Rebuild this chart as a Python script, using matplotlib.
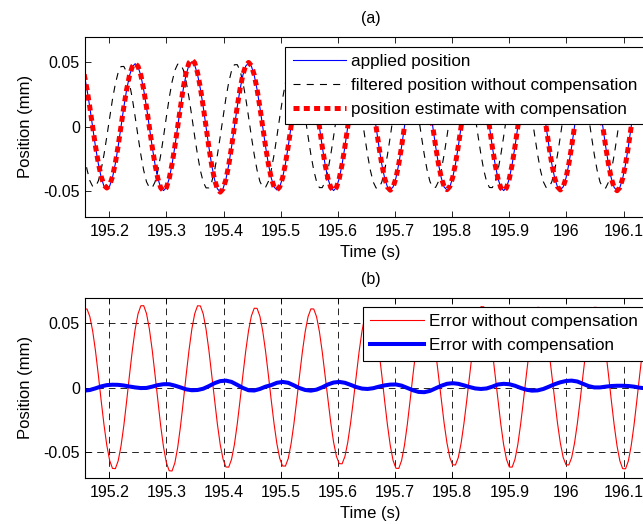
import numpy as np
import matplotlib.pyplot as plt

plt.rcParams['font.family'] = ['Liberation Sans', 'DejaVu Sans']

# sampling of the logged signals (s)
t_start = 195.1561
dt = 0.00496

# positions in mm, one row per cycle
applied = [
    0.0405, 0.0291, 0.0150, -0.0004, -0.0156, -0.0287, -0.0392, -0.0462, -0.0482, -0.0460,
    -0.0393, -0.0286, -0.0151, 0.0002, 0.0154, 0.0290, 0.0398, 0.0468, 0.0490, 0.0466,
    0.0398, 0.0288, 0.0152, 0.0000, -0.0154, -0.0292, -0.0401, -0.0471, -0.0495, -0.0472,
    -0.0402, -0.0292, -0.0153, 0.0001, 0.0157, 0.0298, 0.0409, 0.0481, 0.0505, 0.0479,
    0.0406, 0.0295, 0.0156, 0.0001, -0.0157, -0.0298, -0.0409, -0.0481, -0.0505, -0.0480,
    -0.0408, -0.0296, -0.0155, 0.0000, 0.0154, 0.0292, 0.0401, 0.0472, 0.0495, 0.0471,
    0.0400, 0.0290, 0.0152, -0.0001, -0.0153, -0.0289, -0.0397, -0.0467, -0.0490, -0.0466,
    -0.0396, -0.0288, -0.0151, 0.0002, 0.0156, 0.0295, 0.0405, 0.0476, 0.0500, 0.0475,
    0.0403, 0.0293, 0.0154, 0.0000, -0.0154, -0.0292, -0.0401, -0.0471, -0.0495, -0.0470,
    -0.0400, -0.0291, -0.0153, 0.0001, 0.0155, 0.0294, 0.0404, 0.0475, 0.0499, 0.0474,
    0.0401, 0.0290, 0.0151, -0.0002, -0.0154, -0.0290, -0.0397, -0.0467, -0.0490, -0.0466,
    -0.0397, -0.0288, -0.0152, 0.0000, 0.0153, 0.0291, 0.0401, 0.0471, 0.0495, 0.0471,
    0.0400, 0.0291, 0.0153, 0.0000, -0.0152, -0.0289, -0.0397, -0.0467, -0.0490, -0.0467,
    -0.0397, -0.0289, -0.0152, 0.0001, 0.0155, 0.0295, 0.0404, 0.0476, 0.0500, 0.0476,
    0.0405, 0.0294, 0.0155, 0.0000, -0.0154, -0.0292, -0.0401, -0.0471, -0.0495, -0.0471,
    -0.0401, -0.0291, -0.0153, 0.0001, 0.0154, 0.0291, 0.0400, 0.0471, 0.0495, 0.0470,
    0.0400, 0.0290, 0.0152, -0.0001, -0.0153, -0.0289, -0.0397, -0.0467, -0.0490, -0.0466,
    -0.0397, -0.0289, -0.0152, 0.0001, 0.0155, 0.0294, 0.0404, 0.0476, 0.0500, 0.0475,
    0.0404, 0.0293, 0.0154, 0.0000, -0.0154, -0.0292, -0.0401, -0.0471, -0.0495, -0.0471,
    -0.0400, -0.0291, -0.0153, 0.0000, 0.0155, 0.0294, 0.0404, 0.0476, 0.0500, 0.0476,
]

filtered = [
    -0.0213, -0.0331, -0.0418, -0.0463, -0.0464, -0.0420, -0.0333, -0.0215, -0.0074, 0.0073,
    0.0215, 0.0334, 0.0422, 0.0468, 0.0469, 0.0424, 0.0337, 0.0218, 0.0076, -0.0074,
    -0.0217, -0.0338, -0.0427, -0.0472, -0.0473, -0.0428, -0.0340, -0.0220, -0.0077, 0.0077,
    0.0224, 0.0348, 0.0439, 0.0487, 0.0488, 0.0441, 0.0350, 0.0225, 0.0078, -0.0076,
    -0.0218, -0.0339, -0.0428, -0.0474, -0.0474, -0.0428, -0.0339, -0.0219, -0.0076, 0.0076,
    0.0222, 0.0345, 0.0436, 0.0482, 0.0483, 0.0437, 0.0346, 0.0223, 0.0077, -0.0076,
    -0.0216, -0.0336, -0.0424, -0.0469, -0.0469, -0.0424, -0.0336, -0.0217, -0.0075, 0.0075,
    0.0218, 0.0339, 0.0428, 0.0474, 0.0474, 0.0428, 0.0339, 0.0218, 0.0075, -0.0075,
    -0.0217, -0.0337, -0.0426, -0.0472, -0.0472, -0.0426, -0.0337, -0.0217, -0.0075, 0.0075,
    0.0218, 0.0340, 0.0429, 0.0475, 0.0475, 0.0429, 0.0340, 0.0219, 0.0075, -0.0075,
    -0.0219, -0.0340, -0.0429, -0.0475, -0.0475, -0.0429, -0.0340, -0.0219, -0.0075, 0.0076,
    0.0219, 0.0340, 0.0430, 0.0476, 0.0476, 0.0429, 0.0340, 0.0219, 0.0075, -0.0075,
    -0.0216, -0.0336, -0.0425, -0.0470, -0.0470, -0.0425, -0.0336, -0.0216, -0.0074, 0.0075,
    0.0219, 0.0340, 0.0430, 0.0476, 0.0476, 0.0430, 0.0341, 0.0219, 0.0075, -0.0075,
    -0.0216, -0.0337, -0.0426, -0.0471, -0.0472, -0.0427, -0.0338, -0.0218, -0.0075, 0.0075,
    0.0217, 0.0338, 0.0427, 0.0473, 0.0473, 0.0427, 0.0338, 0.0218, 0.0075, -0.0074,
    -0.0217, -0.0338, -0.0426, -0.0471, -0.0471, -0.0426, -0.0338, -0.0217, -0.0075, 0.0075,
    0.0218, 0.0339, 0.0428, 0.0474, 0.0474, 0.0428, 0.0339, 0.0218, 0.0075, -0.0075,
    -0.0218, -0.0339, -0.0428, -0.0474, -0.0475, -0.0429, -0.0340, -0.0219, -0.0076, 0.0075,
    0.0219, 0.0340, 0.0429, 0.0475, 0.0475, 0.0429, 0.0340, 0.0219, 0.0076, -0.0075,
]

estimate = [
    0.0408, 0.0293, 0.0150, -0.0003, -0.0152, -0.0282, -0.0386, -0.0454, -0.0475, -0.0453,
    -0.0386, -0.0281, -0.0147, 0.0004, 0.0156, 0.0292, 0.0400, 0.0469, 0.0492, 0.0470,
    0.0402, 0.0290, 0.0152, -0.0001, -0.0155, -0.0293, -0.0403, -0.0473, -0.0497, -0.0473,
    -0.0401, -0.0290, -0.0151, 0.0004, 0.0163, 0.0308, 0.0424, 0.0498, 0.0522, 0.0497,
    0.0420, 0.0303, 0.0158, 0.0000, -0.0158, -0.0299, -0.0411, -0.0483, -0.0507, -0.0482,
    -0.0410, -0.0298, -0.0156, 0.0001, 0.0156, 0.0295, 0.0405, 0.0476, 0.0500, 0.0475,
    0.0403, 0.0292, 0.0152, -0.0002, -0.0153, -0.0289, -0.0397, -0.0467, -0.0490, -0.0466,
    -0.0397, -0.0288, -0.0150, 0.0003, 0.0157, 0.0297, 0.0407, 0.0479, 0.0503, 0.0478,
    0.0405, 0.0294, 0.0154, 0.0000, -0.0154, -0.0292, -0.0401, -0.0471, -0.0495, -0.0471,
    -0.0401, -0.0291, -0.0153, 0.0001, 0.0154, 0.0293, 0.0403, 0.0474, 0.0498, 0.0473,
    0.0402, 0.0291, 0.0152, -0.0001, -0.0153, -0.0290, -0.0398, -0.0468, -0.0492, -0.0468,
    -0.0398, -0.0289, -0.0152, 0.0000, 0.0155, 0.0294, 0.0404, 0.0476, 0.0500, 0.0476,
    0.0404, 0.0293, 0.0151, -0.0001, -0.0151, -0.0287, -0.0395, -0.0464, -0.0488, -0.0464,
    -0.0395, -0.0287, -0.0150, 0.0002, 0.0156, 0.0296, 0.0406, 0.0478, 0.0502, 0.0477,
    0.0405, 0.0294, 0.0154, -0.0001, -0.0155, -0.0293, -0.0403, -0.0474, -0.0498, -0.0474,
    -0.0403, -0.0293, -0.0154, 0.0000, 0.0154, 0.0292, 0.0402, 0.0473, 0.0497, 0.0472,
    0.0401, 0.0291, 0.0152, -0.0001, -0.0152, -0.0289, -0.0397, -0.0466, -0.0490, -0.0466,
    -0.0397, -0.0288, -0.0151, 0.0002, 0.0155, 0.0294, 0.0405, 0.0476, 0.0501, 0.0477,
    0.0406, 0.0295, 0.0155, 0.0000, -0.0154, -0.0292, -0.0402, -0.0472, -0.0496, -0.0472,
    -0.0401, -0.0292, -0.0153, 0.0000, 0.0155, 0.0294, 0.0404, 0.0476, 0.0500, 0.0476,
]

err_without = [
    0.0610, 0.0612, 0.0553, 0.0441, 0.0285, 0.0099, -0.0101, -0.0289, -0.0450, -0.0567,
    -0.0628, -0.0630, -0.0569, -0.0454, -0.0293, -0.0102, 0.0100, 0.0292, 0.0455, 0.0574,
    0.0637, 0.0638, 0.0576, 0.0457, 0.0294, 0.0101, -0.0102, -0.0297, -0.0462, -0.0583,
    -0.0646, -0.0648, -0.0585, -0.0464, -0.0298, -0.0103, 0.0101, 0.0293, 0.0457, 0.0575,
    0.0637, 0.0636, 0.0574, 0.0455, 0.0291, 0.0099, -0.0098, -0.0283, -0.0442, -0.0556,
    -0.0617, -0.0618, -0.0557, -0.0443, -0.0284, -0.0098, 0.0098, 0.0285, 0.0444, 0.0558,
    0.0618, 0.0617, 0.0556, 0.0441, 0.0283, 0.0097, -0.0097, -0.0281, -0.0437, -0.0550,
    -0.0609, -0.0610, -0.0551, -0.0437, -0.0281, -0.0097, 0.0097, 0.0281, 0.0438, 0.0553,
    0.0613, 0.0612, 0.0551, 0.0436, 0.0278, 0.0094, -0.0094, -0.0272, -0.0424, -0.0534,
    -0.0591, -0.0592, -0.0535, -0.0425, -0.0274, -0.0095, 0.0096, 0.0280, 0.0437, 0.0552,
    0.0620, 0.0619, 0.0558, 0.0443, 0.0286, 0.0099, -0.0100, -0.0289, -0.0450, -0.0567,
    -0.0627, -0.0628, -0.0566, -0.0449, -0.0288, -0.0099, 0.0098, 0.0284, 0.0443, 0.0558,
    0.0620, 0.0618, 0.0555, 0.0438, 0.0281, 0.0096, -0.0096, -0.0276, -0.0430, -0.0542,
    -0.0600, -0.0601, -0.0543, -0.0431, -0.0277, -0.0096, 0.0099, 0.0287, 0.0448, 0.0565,
    0.0630, 0.0629, 0.0566, 0.0448, 0.0287, 0.0098, -0.0098, -0.0284, -0.0443, -0.0558,
    -0.0617, -0.0618, -0.0557, -0.0442, -0.0283, -0.0097, 0.0097, 0.0282, 0.0440, 0.0555,
    0.0625, 0.0623, 0.0560, 0.0443, 0.0283, 0.0096, -0.0096, -0.0276, -0.0430, -0.0542,
    -0.0600, -0.0601, -0.0544, -0.0432, -0.0279, -0.0097, 0.0098, 0.0285, 0.0445, 0.0561,
    0.0625, 0.0624, 0.0561, 0.0446, 0.0287, 0.0099, -0.0101, -0.0291, -0.0452, -0.0569,
    -0.0630, -0.0631, -0.0570, -0.0452, -0.0290, -0.0099, 0.0100, 0.0290, 0.0453, 0.0570,
]

# logged at half the rate
err_with = [
    -0.0023, -0.0018, -0.0005, 0.0010, 0.0020, 0.0023, 0.0022, 0.0017, 0.0009, 0.0002,
    -0.0003, -0.0002, 0.0008, 0.0020, 0.0027, 0.0027, 0.0016, 0.0002, -0.0013, -0.0020,
    -0.0018, -0.0008, 0.0012, 0.0035, 0.0051, 0.0055, 0.0045, 0.0022, -0.0002, -0.0020,
    -0.0022, -0.0010, 0.0008, 0.0020, 0.0038, 0.0045, 0.0038, 0.0018, -0.0003, -0.0018,
    -0.0023, -0.0015, 0.0003, 0.0025, 0.0040, 0.0045, 0.0038, 0.0022, 0.0005, -0.0007,
    -0.0010, -0.0004, 0.0008, 0.0018, 0.0024, 0.0025, 0.0016, -0.0002, -0.0020, -0.0033,
    -0.0035, -0.0025, -0.0005, 0.0015, 0.0030, 0.0035, 0.0030, 0.0018, 0.0005, -0.0006,
    -0.0010, -0.0006, 0.0008, 0.0025, 0.0030, 0.0027, 0.0015, -0.0002, -0.0016, -0.0023,
    -0.0021, -0.0010, 0.0008, 0.0027, 0.0042, 0.0052, 0.0055, 0.0048, 0.0030, 0.0012,
    0.0002, 0.0002, 0.0008, 0.0013, 0.0015, 0.0015, 0.0013, 0.0008, 0.0000, -0.0005,
]

xticks = [195.2, 195.3, 195.4, 195.5, 195.6, 195.7, 195.8, 195.9, 196.0, 196.1]
xticklabels = ['195.2', '195.3', '195.4', '195.5', '195.6', '195.7', '195.8', '195.9', '196', '196.1']
yticks = [-0.05, 0, 0.05]
yticklabels = ['-0.05', '0', '0.05']

t = t_start + dt * np.arange(len(applied))
t2 = t[::2]

fig = plt.figure(figsize=(6.43, 5.24), dpi=100)
ax1 = fig.add_axes([0.1317, 0.5859, 0.8887, 0.3441])
ax2 = fig.add_axes([0.1317, 0.0884, 0.8887, 0.3435])

ax1.plot(t, applied, color='b', lw=0.8, label='applied position')
ax1.plot(t, filtered, color='k', lw=0.8, linestyle=(0, (6.3, 5.6)),
         label='filtered position without compensation')
ax1.plot(t, estimate, color='r', lw=3.6, linestyle=(0, (1.2, 0.86)),
         dash_capstyle='butt', label='position estimate with compensation')

ax2.plot(t, err_without, color='r', lw=0.8, label='Error without compensation')
ax2.plot(t2, err_with, color='b', lw=2.9, label='Error with compensation')
ax2.grid(True, color='k', lw=0.6, linestyle=(0, (8, 6)))

for ax, title in ((ax1, '(a)'), (ax2, '(b)')):
    ax.set_xlim(195.157, 196.157)
    ax.set_ylim(-0.07, 0.07)
    ax.set_xticks(xticks)
    ax.set_xticklabels(xticklabels)
    ax.set_yticks(yticks)
    ax.set_yticklabels(yticklabels)
    ax.tick_params(direction='in', top=True, right=True, length=4, width=0.6,
                   labelsize=11.5, colors='k')
    ax.tick_params(axis='x', pad=5)
    for sp in ax.spines.values():
        sp.set_linewidth(0.8)
    ax.set_title(title, fontsize=11.5, pad=10)
    ax.set_xlabel('Time (s)', fontsize=12, labelpad=4.5)
    ax.set_ylabel('Position (mm)', fontsize=12, labelpad=7.5)

leg_kw = dict(loc='upper left', bbox_transform=fig.transFigure, borderaxespad=0,
              fontsize=12.35, handlelength=3.1, handletextpad=0.3, borderpad=0.45,
              labelspacing=0.5, fancybox=False, framealpha=1, edgecolor='k')
leg1 = ax1.legend(bbox_to_anchor=(0.4432, 0.9109), **leg_kw)
leg2 = ax2.legend(bbox_to_anchor=(0.5641, 0.4147), **leg_kw)
for leg in (leg1, leg2):
    leg.get_frame().set_linewidth(0.8)

fig.savefig('out.png', dpi=100)
